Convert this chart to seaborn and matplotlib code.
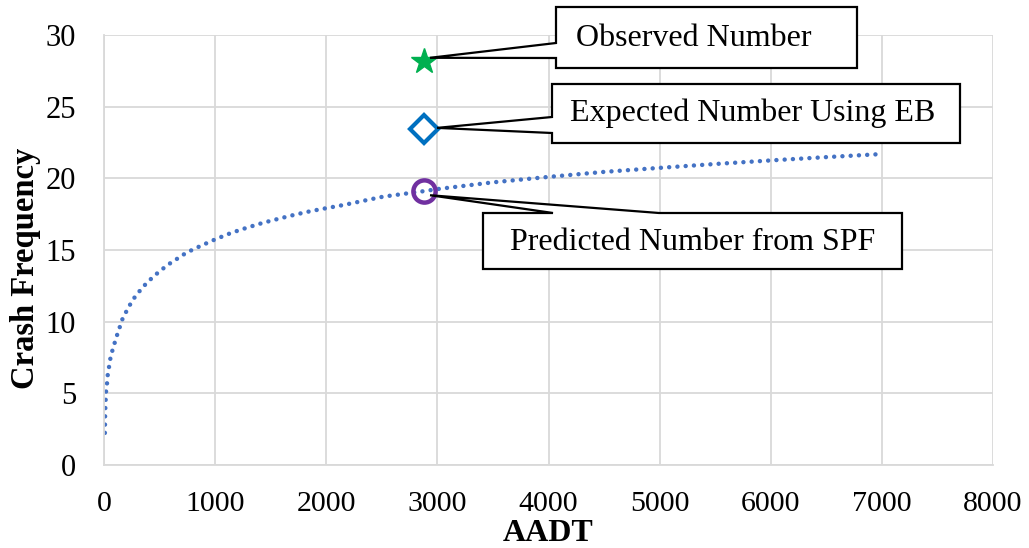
import matplotlib

matplotlib.use("Agg")
import matplotlib.pyplot as plt
import numpy as np
import pandas as pd
import seaborn as sns
from matplotlib.patches import Polygon
from matplotlib.transforms import IdentityTransform

# SPF curve
aadt = [8, 9, 10, 12, 15, 18, 27, 33, 45, 57, 75, 96, 117, 141, 165, 198, 234, 276, 324, 375,
        429, 486, 544, 607, 673, 733, 802, 868, 937, 1006, 1147, 1288, 1432, 1577, 1721, 1865,
        2009, 2162, 2511, 2873, 3000, 3500, 4000, 4500, 5000, 5500, 6000, 6500, 6965]
crashes = [2.24, 2.82, 3.40, 3.98, 4.54, 5.09, 5.67, 6.25, 6.83, 7.41, 7.97, 8.52, 9.05, 9.60,
           10.16, 10.67, 11.18, 11.70, 12.17, 12.62, 13.03, 13.42, 13.78, 14.14, 14.46, 14.77,
           15.04, 15.28, 15.52, 15.76, 16.20, 16.56, 16.90, 17.19, 17.47, 17.72, 17.93, 18.15,
           18.72, 19.10, 19.25, 19.72, 20.10, 20.45, 20.73, 21.00, 21.25, 21.48, 21.68]

site_aadt = 2880
observed = 28.2
expected_eb = 23.45
predicted_spf = 19.1

labels = ["Observed Number", "Expected Number Using EB", "Predicted Number from SPF"]

W, H = 1029, 548

sns.set_style("whitegrid", {"grid.color": "#d9d9d9", "axes.edgecolor": "#d9d9d9"})
plt.rcParams["font.family"] = ["Liberation Serif", "DejaVu Serif"]

fig = plt.figure(figsize=(W / 100, H / 100), dpi=100)
ax = fig.add_axes([104 / W, (H - 465) / H, (993 - 104) / W, (465 - 35) / H])

df = pd.DataFrame({"AADT": aadt, "Crash": crashes})
sns.lineplot(data=df, x="AADT", y="Crash", ax=ax, sort=False, estimator=None, color="#4472c4",
             linewidth=3.2, linestyle=(0, (0.01, 1.85)), dash_capstyle="round")

ax.plot([site_aadt], [observed], marker="*", markersize=19, color="#00b050", linestyle="none", zorder=5)
ax.plot([site_aadt], [expected_eb], marker="D", markersize=14, markerfacecolor="white",
        markeredgecolor="#0070c0", markeredgewidth=3, linestyle="none", zorder=5)
ax.plot([site_aadt], [predicted_spf], marker="o", markersize=16, markerfacecolor="none",
        markeredgecolor="#7030a0", markeredgewidth=3.2, linestyle="none", zorder=5)

ax.set_xlim(0, 8000)
ax.set_ylim(0, 30)
ax.set_xticks(np.arange(0, 8001, 1000))
ax.set_yticks(np.arange(0, 31, 5))
ax.grid(True, color="#d9d9d9", linewidth=1.3)
for side in ["top", "right"]:
    ax.spines[side].set_visible(False)
ax.spines["left"].set_color("#d9d9d9")
ax.spines["bottom"].set_color("#d9d9d9")
ax.spines["left"].set_linewidth(1.3)
ax.spines["bottom"].set_linewidth(1.3)
ax.tick_params(axis="both", length=0, labelsize=22, colors="black")
ax.tick_params(axis="x", pad=19, labelsize=21.5)
ax.tick_params(axis="y", pad=20)
ax.set_xlabel("AADT", fontsize=23, fontweight="bold", color="black", va="top")
ax.set_ylabel("Crash Frequency", fontsize=23.5, fontweight="bold", color="black", va="center")
ax.xaxis.set_label_coords(0.5, -0.125)
ax.yaxis.set_label_coords(-0.088, 0.458)


def tip(y, dx, dy):
    px, py = ax.transData.transform((site_aadt, y))
    return (px + dx, py + dy)


def pix(x, y):
    return (x, H - y)


# callouts: box corners in picture pixels, wedge to the marker
callouts = [
    [pix(556, 7), pix(857, 7), pix(857, 68), pix(556, 68), pix(556, 58), tip(observed, 6, 3), pix(556, 43)],
    [pix(552, 84), pix(960, 84), pix(960, 143), pix(552, 143), pix(552, 133), tip(expected_eb, 13, 1), pix(552, 117)],
    [pix(483, 213), pix(553, 213), tip(predicted_spf, 6, -4), pix(659, 213), pix(902, 213), pix(902, 269), pix(483, 269)],
]
for verts in callouts:
    fig.add_artist(Polygon(verts, closed=True, facecolor="white", edgecolor="black", linewidth=1.6,
                           transform=IdentityTransform(), zorder=10))

for label, (x, y) in zip(labels, [(694, 38), (753, 113), (693, 242)]):
    fig.text(x / W, 1 - y / H, label, ha="center", va="center", fontsize=23, color="black", zorder=11)

fig.savefig("out.png", dpi=100)
